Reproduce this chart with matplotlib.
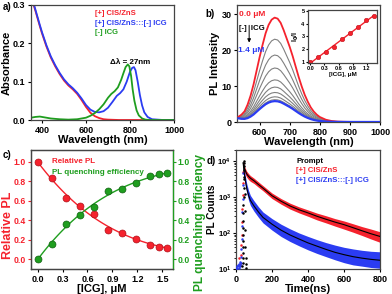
import numpy as np
import matplotlib
matplotlib.use('Agg')
import matplotlib.pyplot as plt
from matplotlib.ticker import LogLocator, NullFormatter

plt.rcParams['font.family'] = ['Liberation Sans', 'DejaVu Sans']
plt.rcParams['font.weight'] = 'bold'
plt.rcParams['axes.labelweight'] = 'bold'
plt.rcParams['mathtext.default'] = 'bf'

RED = '#f5222d'
BLUE = '#2b3cf2'
GREEN = '#1f9e1f'
GRAY = '#808080'
SPINE = '#444444'

# ---------------- panel a: absorbance ----------------
wl_cis = [362, 370, 380, 390, 400, 420, 440, 460, 480, 500, 520, 540, 560, 580, 600,
          620, 640, 660, 680, 700, 750, 1000]
abs_cis = [0.30, 0.285, 0.265, 0.245, 0.226, 0.192, 0.163, 0.140, 0.120, 0.103, 0.090,
           0.080, 0.068, 0.052, 0.034, 0.019, 0.010, 0.005, 0.002, 0.001, 0.0, 0.0]
wl_mix = [364, 370, 380, 390, 400, 420, 440, 460, 480, 500, 520, 540, 560, 580, 600, 620,
          640, 660, 680, 700, 720, 740, 755, 770, 785, 800, 810, 818, 825, 835, 845, 855,
          865, 880, 900, 950, 1000]
abs_mix = [0.30, 0.288, 0.268, 0.248, 0.229, 0.195, 0.166, 0.143, 0.123, 0.106, 0.093,
           0.083, 0.071, 0.056, 0.039, 0.027, 0.021, 0.020, 0.023, 0.032, 0.047, 0.063,
           0.070, 0.080, 0.100, 0.126, 0.136, 0.138, 0.130, 0.100, 0.065, 0.038, 0.020,
           0.008, 0.002, 0.0, 0.0]
wl_icg = [350, 370, 390, 410, 440, 480, 520, 560, 600, 620, 640, 660, 680, 700, 715, 730,
          745, 760, 770, 780, 790, 797, 805, 812, 820, 830, 840, 855, 870, 890, 1000]
abs_icg = [0.006, 0.008, 0.009, 0.007, 0.004, 0.002, 0.001, 0.002, 0.006, 0.011, 0.018,
           0.028, 0.041, 0.058, 0.068, 0.075, 0.085, 0.105, 0.122, 0.138, 0.145, 0.140,
           0.115, 0.080, 0.050, 0.025, 0.012, 0.004, 0.001, 0.0, 0.0]

# ---------------- panel b: PL spectra ----------------
wl_pl = [530, 540, 550, 560, 570, 580, 590, 600, 610, 620, 630, 640, 650, 660, 670, 680,
         690, 700, 710, 720, 730, 740, 750, 760, 770, 780, 790, 800, 820, 840, 860, 880,
         900, 1000]
pl_shape = [0.02, 0.05, 0.09, 0.16, 0.25, 0.36, 0.49, 0.62, 0.74, 0.85, 0.93, 0.98, 1.0,
            0.99, 0.95, 0.88, 0.80, 0.72, 0.63, 0.53, 0.43, 0.34, 0.26, 0.195, 0.14, 0.10,
            0.07, 0.048, 0.022, 0.009, 0.004, 0.002, 0.001, 0.0]
pl_base = [0.9, 0.6, 0.35, 0.15, 0.05, 0.0, 0.0, 0.0, 0.0, 0.0, 0.0, 0.0, 0.0, 0.0, 0.0,
           0.0, 0.0, 0.0, 0.0, 0.0, 0.0, 0.0, 0.0, 0.0, 0.0, 0.0, 0.0, 0.0, 0.0, 0.0, 0.0,
           0.0, 0.0, 0.0]
pl_peaks = [29.0, 23.0, 18.6, 15.0, 11.7, 9.7, 8.2, 7.0, 6.2, 5.8]

icg_inset = [0.0, 0.17, 0.34, 0.51, 0.68, 0.85, 1.02, 1.19, 1.35]
i0_over_i = [1.0, 1.38, 1.76, 2.2, 2.76, 3.24, 3.73, 4.3, 4.62]

# ---------------- panel c ----------------
icg_c = [0.0, 0.17, 0.34, 0.51, 0.68, 0.85, 1.02, 1.19, 1.35, 1.46, 1.56]
rel_pl = [1.0, 0.83, 0.63, 0.55, 0.46, 0.30, 0.27, 0.21, 0.15, 0.13, 0.12]
quench = [0.0, 0.16, 0.36, 0.45, 0.54, 0.70, 0.72, 0.78, 0.85, 0.87, 0.88]

# ---------------- panel d: decays ----------------
t_dec = [40, 45, 50, 60, 70, 80, 100, 125, 150, 200, 250, 300, 350, 400, 450, 500, 550,
         600, 650, 700, 750, 800]
red_fit = [9000, 6800, 5500, 4300, 3700, 3300, 2800, 2200, 1750, 1080, 760, 560, 440,
           360, 290, 240, 200, 170, 140, 115, 95, 80]
red_lo = [6000, 5000, 4300, 3500, 3000, 2700, 2350, 1850, 1480, 900, 630, 460, 360, 290,
          230, 190, 155, 128, 105, 85, 68, 55]
red_hi = [10000, 8200, 6500, 5100, 4400, 3900, 3300, 2600, 2050, 1280, 900, 670, 530, 435,
          355, 300, 250, 215, 180, 150, 128, 108]
blue_fit = [8500, 5000, 3200, 1700, 1100, 800, 560, 380, 270, 175, 120, 88, 68, 53, 43,
            35, 29, 25, 22, 20, 18.5, 17.5]
blue_lo = [6000, 3500, 2300, 1250, 800, 580, 400, 270, 190, 120, 80, 58, 44, 34, 27, 22,
           18, 15, 13, 12, 11, 10.5]
blue_hi = [10000, 6500, 4300, 2300, 1500, 1100, 780, 530, 380, 250, 175, 130, 100, 80, 65,
           54, 46, 40, 36, 33, 31, 30]
rise_t = [18, 22, 26, 30, 33, 35, 36, 37, 38, 39]
rise_red = [20, 14, 25, 45, 90, 200, 450, 1100, 2500, 5000]
rise_blue = [12, 16, 22, 35, 70, 160, 380, 900, 2200, 4500]
floor_t = [2, 5, 8, 11, 14, 17, 20, 24, 27]
floor_blue = [11, 12, 10.5, 13, 11, 14, 12, 13, 15]
prompt_t = [36, 37, 37, 38, 38, 39, 39, 40, 40, 41, 41, 42, 42, 43, 43, 44, 45, 46, 47,
            48, 49, 50, 52, 54, 56, 58]
prompt_y = [12, 15, 20, 28, 40, 60, 90, 140, 220, 350, 600, 1000, 1800, 3200, 5500, 9000,
            10000, 7000, 3500, 1200, 400, 120, 40, 20, 14, 11]

W, H = 392, 294
fig = plt.figure(figsize=(W / 100, H / 100), dpi=100)


def px_axes(x0, y0, x1, y1):
    return fig.add_axes([x0 / W, 1 - y1 / H, (x1 - x0) / W, (y1 - y0) / H])


TICK = 6.5
LAB = 8


def style(ax, tick=TICK):
    for s in ax.spines.values():
        s.set_color(SPINE)
        s.set_linewidth(0.9)
    ax.tick_params(labelsize=tick, length=2.5, width=0.8, pad=1.5, colors='black')
    for lb in ax.get_xticklabels() + ax.get_yticklabels():
        lb.set_fontweight('bold')


# ---- a ----
ax = px_axes(31, 5, 174, 120)
ax.plot(wl_cis, abs_cis, color=RED, lw=1.3)
ax.plot(wl_mix, abs_mix, color=BLUE, lw=1.3)
ax.plot(wl_icg, abs_icg, color=GREEN, lw=1.3)
ax.set_xlim(350, 1000)
ax.set_ylim(0, 0.3)
ax.set_xticks([400, 600, 800, 1000])
ax.set_yticks([0.0, 0.1, 0.2, 0.3])
ax.set_xlabel('Wavelength (nm)', fontsize=LAB, labelpad=0)
ax.set_ylabel('Absorbance', fontsize=LAB, labelpad=1)
style(ax)
ax.text(0.448, 0.922, '[+] CIS/ZnS', color=RED, fontsize=5.5, transform=ax.transAxes, va='center')
ax.text(0.448, 0.843, '[+] CIS/ZnS:::[-] ICG', color=BLUE, fontsize=5.5, transform=ax.transAxes, va='center')
ax.text(0.448, 0.757, '[-] ICG', color=GREEN, fontsize=5.5, transform=ax.transAxes, va='center')
ax.text(0.55, 0.50, 'Δλ = 27nm', color='black', fontsize=5.8, transform=ax.transAxes, va='center')
fig.text(3 / W, 1 - 7 / H, 'a)', fontsize=7, va='center', ha='left')

# ---- b ----
ax = px_axes(237, 5, 380, 122)
shape = np.array(pl_shape)
base = np.array(pl_base)
n = len(pl_peaks)
for i, pk in enumerate(pl_peaks):
    if i == 0:
        c, lw = RED, 1.3
    elif i == n - 1:
        c, lw = BLUE, 1.6
    else:
        c, lw = GRAY, 0.8
    ax.plot(wl_pl, pk * shape + base, color=c, lw=lw, zorder=3 if i in (0, n - 1) else 2)
ax.set_xlim(525, 1000)
ax.set_ylim(0, 32.5)
ax.set_xticks([600, 700, 800, 900, 1000])
ax.set_yticks([0, 10, 20, 30])
ax.set_xlabel('Wavelength (nm)', fontsize=LAB, labelpad=0)
ax.set_ylabel('PL Intensity', fontsize=LAB, labelpad=1)
style(ax)
ax.text(0.014, 0.923, '0.0 μM', color=RED, fontsize=6, transform=ax.transAxes, va='center')
ax.text(0.014, 0.795, '[-]  ICG', color='black', fontsize=5.6, transform=ax.transAxes, va='center')
ax.text(0.005, 0.607, '1.4 μM', color=BLUE, fontsize=6, transform=ax.transAxes, va='center')
ax.annotate('', xy=(0.085, 0.655), xytext=(0.085, 0.85), xycoords='axes fraction',
            arrowprops=dict(arrowstyle='-|>', color='black', lw=0.7, mutation_scale=5))
fig.text(205 / W, 1 - 14 / H, 'b)', fontsize=7, va='center', ha='left')

# inset
axi = px_axes(308, 10, 377, 63)
x_in = np.array(icg_inset)
y_in = np.array(i0_over_i)
coef = np.polyfit(x_in, y_in, 1)
xf = np.array([x_in.min(), x_in.max()])
axi.plot(xf, np.polyval(coef, xf), color=RED, lw=1.0)
axi.plot(x_in, y_in, 'o', color=RED, ms=3.2, mec='#c01018', mew=0.4)
axi.set_xlim(-0.05, 1.42)
axi.set_ylim(0.9, 5.08)
axi.set_xticks([0.0, 0.3, 0.6, 0.9, 1.2])
axi.set_xticklabels(['0.0', '0.3', '0.6', '0.9', '1.2'])
axi.set_yticks([1, 2, 3, 4, 5])
style(axi, tick=4)
axi.tick_params(length=1.5, pad=1)
axi.set_xlabel('[ICG], μM', fontsize=4.5, labelpad=0.5)
axi.set_ylabel('I$_0$/I', fontsize=5, labelpad=0.5)

# ---- c ----
ax = px_axes(31, 150, 173, 269)
ax2 = ax.twinx()
xc = np.array(icg_c)
xs = np.linspace(xc.min(), xc.max(), 100)
ax.plot(xs, np.polyval(np.polyfit(xc, rel_pl, 3), xs), color=RED, lw=1.0)
ax.plot(xc, rel_pl, 'o', color=RED, ms=5, mec='#b01018', mew=0.5)
ax2.plot(xs, np.polyval(np.polyfit(xc, quench, 3), xs), color=GREEN, lw=1.0)
ax2.plot(xc, quench, 'o', color=GREEN, ms=5, mec='#106010', mew=0.5)
ax.set_xlim(-0.08, 1.63)
ax.set_ylim(-0.1, 1.12)
ax2.set_ylim(-0.1, 1.12)
ax.set_xticks([0.0, 0.3, 0.6, 0.9, 1.2, 1.5])
ax.set_yticks([0.0, 0.2, 0.4, 0.6, 0.8, 1.0])
ax2.set_yticks([0.0, 0.2, 0.4, 0.6, 0.8, 1.0])
style(ax)
style(ax2)
ax.tick_params(axis='y', colors=RED, labelsize=6.2, pad=1)
ax2.tick_params(axis='y', colors=GREEN, labelsize=6.2, pad=1)
ax2.spines['right'].set_color(GREEN)
ax.set_xlabel('[ICG], μM', fontsize=LAB, labelpad=0)
ax.set_ylabel('Relative PL', fontsize=9, color=RED, labelpad=1)
ax.yaxis.set_label_coords(-0.118, 0.37)
ax2.set_ylabel('PL quenching efficiency', fontsize=8.6, color=GREEN, labelpad=2)
ax2.yaxis.set_label_coords(1.145, 0.39)
ax.text(0.15, 0.90, 'Relative PL', color=RED, fontsize=5.8, transform=ax.transAxes, va='center')
ax.text(0.15, 0.815, 'PL quenching efficiency', color=GREEN, fontsize=5.8, transform=ax.transAxes, va='center')
fig.text(3 / W, 1 - 155 / H, 'c)', fontsize=7, va='center', ha='left')

# ---- d ----
ax = px_axes(236, 150, 380, 269)
ax.set_yscale('log')
ax.fill_between(t_dec, red_lo, red_hi, color=RED, lw=0, zorder=2)
ax.fill_between(t_dec, blue_lo, blue_hi, color=BLUE, lw=0, zorder=2)
ax.plot(rise_t, rise_red, 'o', color=RED, ms=1.8, mew=0, zorder=3)
ax.plot(rise_t, rise_blue, 'o', color=BLUE, ms=1.8, mew=0, zorder=3)
ax.plot(floor_t, floor_blue, 'o', color=BLUE, ms=1.8, mew=0, zorder=3)
ax.plot(prompt_t, prompt_y, 'o', color='black', ms=1.8, mew=0, zorder=4)
ax.plot(t_dec, red_fit, color='black', lw=0.8, zorder=5)
ax.plot(t_dec, blue_fit, color='black', lw=0.8, zorder=5)
ax.set_xlim(0, 800)
ax.set_ylim(10, 2e4)
ax.set_xticks([0, 200, 400, 600, 800])
ax.yaxis.set_major_locator(LogLocator(base=10, numticks=10))
ax.yaxis.set_minor_locator(LogLocator(base=10, subs=np.arange(2, 10), numticks=20))
ax.yaxis.set_minor_formatter(NullFormatter())
style(ax)
ax.tick_params(axis='y', which='major', labelsize=5.6, pad=1)
ax.tick_params(axis='y', which='minor', length=1.5, width=0.6)
ax.set_xlabel('Time(ns)', fontsize=LAB, labelpad=0)
ax.set_ylabel('PL Counts', fontsize=7.2, labelpad=0)
ax.text(0.417, 0.90, 'Prompt', color='black', fontsize=5.6, transform=ax.transAxes, va='center')
ax.text(0.417, 0.824, '[+] CIS/ZnS', color=RED, fontsize=5.6, transform=ax.transAxes, va='center')
ax.text(0.417, 0.74, '[+] CIS/ZnS:::[-] ICG', color=BLUE, fontsize=5.6, transform=ax.transAxes, va='center')
fig.text(207 / W, 1 - 161 / H, 'd)', fontsize=7, va='center', ha='left')

fig.savefig('out.png', dpi=100)
